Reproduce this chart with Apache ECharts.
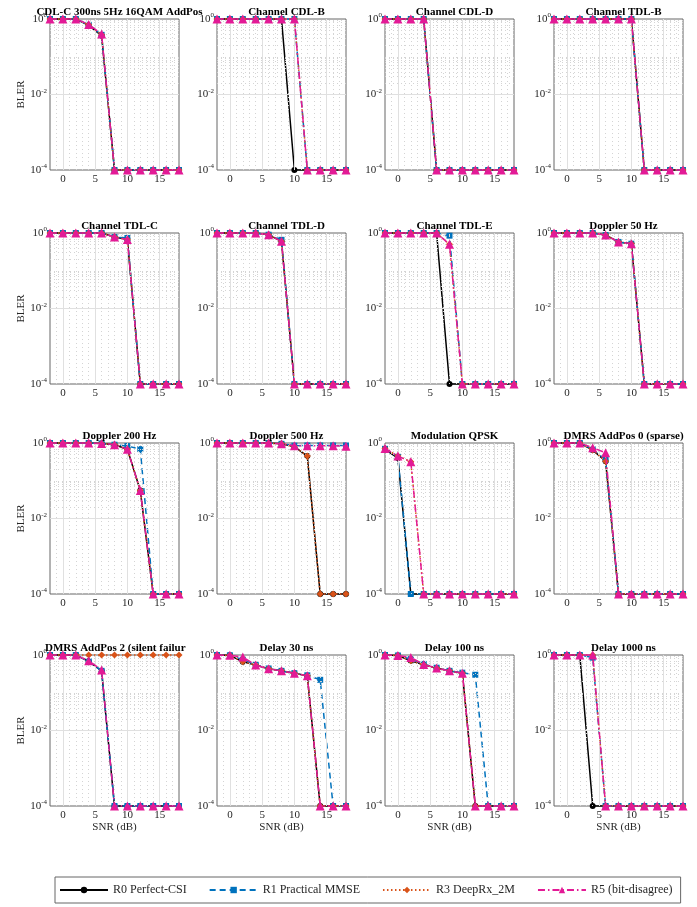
<!DOCTYPE html>
<html>
<head>
<meta charset="utf-8">
<script src="https://cdn.jsdelivr.net/npm/echarts@6/dist/echarts.min.js"></script>
<style>
  html, body { margin: 0; padding: 0; background: #fff; }
  #chart { width: 697px; height: 907px; }
</style>
</head>
<body>
<div id="chart"></div>
<script>
// SNR sweep (dB) shared by every panel
const snr = [-2, 0, 2, 4, 6, 8, 10, 12, 14, 16, 18];

// Panel titles, row by row
const titles = [
  'CDL-C 300ns 5Hz 16QAM AddPos', 'Channel CDL-B', 'Channel CDL-D', 'Channel TDL-B',
  'Channel TDL-C', 'Channel TDL-D', 'Channel TDL-E', 'Doppler 50 Hz',
  'Doppler 200 Hz', 'Doppler 500 Hz', 'Modulation QPSK', 'DMRS AddPos 0 (sparse)',
  'DMRS AddPos 2 (silent failure)', 'Delay 30 ns', 'Delay 100 ns', 'Delay 1000 ns'
];

// Receiver names
const seriesNames = ['R0 Perfect-CSI', 'R1 Practical MMSE', 'R3 DeepRx_2M', 'R5 (bit-disagree)'];

// Error-free points are plotted at the 1e-4 floor
const F = 1e-4;

// BLER per panel, R0 Perfect-CSI
const r0 = [
  [1, 1, 1, 0.68, 0.36, F, F, F, F, F, F],
  [1, 1, 1, 1, 1, 1, F, F, F, F, F],
  [1, 1, 1, 1, F, F, F, F, F, F, F],
  [1, 1, 1, 1, 1, 1, 1, F, F, F, F],
  [1, 1, 1, 1, 1, 0.78, 0.67, F, F, F, F],
  [1, 1, 1, 1, 0.9, 0.6, F, F, F, F, F],
  [1, 1, 1, 1, 1, F, F, F, F, F, F],
  [1, 1, 1, 1, 0.88, 0.58, 0.52, F, F, F, F],
  [1, 1, 1, 1, 0.97, 0.9, 0.68, 0.055, F, F, F],
  [1, 1, 1, 1, 1, 0.95, 0.8, 0.45, F, F, F],
  [0.68, 0.4, F, F, F, F, F, F, F, F, F],
  [1, 1, 1, 0.65, 0.33, F, F, F, F, F, F],
  [1, 1, 1, 0.68, 0.38, F, F, F, F, F, F],
  [1, 0.98, 0.66, 0.54, 0.43, 0.38, 0.33, 0.28, F, F, F],
  [1, 0.97, 0.7, 0.55, 0.45, 0.38, 0.33, F, F, F, F],
  [1, 1, 1, F, F, F, F, F, F, F, F]
];

// BLER per panel, R1 Practical MMSE
const r1 = [
  [1, 1, 1, 0.7, 0.38, F, F, F, F, F, F],
  [1, 1, 1, 1, 1, 1, 1, F, F, F, F],
  [1, 1, 1, 1, F, F, F, F, F, F, F],
  [1, 1, 1, 1, 1, 1, 1, F, F, F, F],
  [1, 1, 1, 1, 1, 0.78, 0.74, F, F, F, F],
  [1, 1, 1, 1, 0.9, 0.66, F, F, F, F, F],
  [1, 1, 1, 1, 1, 0.85, F, F, F, F, F],
  [1, 1, 1, 1, 0.88, 0.58, 0.52, F, F, F, F],
  [1, 1, 1, 1, 0.97, 0.9, 0.83, 0.69, F, F, F],
  [1, 1, 1, 1, 1, 0.95, 0.85, 0.86, 0.86, 0.86, 0.86],
  [0.7, 0.43, F, F, F, F, F, F, F, F, F],
  [1, 1, 1, 0.68, 0.36, F, F, F, F, F, F],
  [1, 1, 1, 0.68, 0.38, F, F, F, F, F, F],
  [1, 0.98, 0.75, 0.55, 0.44, 0.38, 0.33, 0.29, 0.22, F, F],
  [1, 0.97, 0.78, 0.58, 0.46, 0.38, 0.34, 0.3, F, F, F],
  [1, 1, 1, 0.85, F, F, F, F, F, F, F]
];

// BLER per panel, R3 DeepRx_2M
const r3 = [
  [1, 1, 1, 0.7, 0.38, F, F, F, F, F, F],
  [1, 1, 1, 1, 1, 1, 1, F, F, F, F],
  [1, 1, 1, 1, F, F, F, F, F, F, F],
  [1, 1, 1, 1, 1, 1, 1, F, F, F, F],
  [1, 1, 1, 1, 1, 0.78, 0.67, F, F, F, F],
  [1, 1, 1, 1, 0.9, 0.6, F, F, F, F, F],
  [1, 1, 1, 1, 1, 0.5, F, F, F, F, F],
  [1, 1, 1, 1, 0.88, 0.58, 0.52, F, F, F, F],
  [1, 1, 1, 1, 0.97, 0.9, 0.68, 0.055, F, F, F],
  [1, 1, 1, 1, 1, 0.95, 0.8, 0.45, F, F, F],
  [0.72, 0.45, 0.32, F, F, F, F, F, F, F, F],
  [1, 1, 1, 0.65, 0.33, F, F, F, F, F, F],
  [1, 1, 1, 1, 1, 1, 1, 1, 1, 1, 1],
  [1, 0.98, 0.66, 0.54, 0.43, 0.38, 0.33, 0.28, F, F, F],
  [1, 0.97, 0.7, 0.55, 0.45, 0.38, 0.33, F, F, F, F],
  [1, 1, 1, 1, F, F, F, F, F, F, F]
];

// BLER per panel, R5 (bit-disagree)
const r5 = [
  [1, 1, 1, 0.72, 0.4, F, F, F, F, F, F],
  [1, 1, 1, 1, 1, 1, 1, F, F, F, F],
  [1, 1, 1, 1, F, F, F, F, F, F, F],
  [1, 1, 1, 1, 1, 1, 1, F, F, F, F],
  [1, 1, 1, 1, 1, 0.78, 0.67, F, F, F, F],
  [1, 1, 1, 1, 0.9, 0.6, F, F, F, F, F],
  [1, 1, 1, 1, 1, 0.5, F, F, F, F, F],
  [1, 1, 1, 1, 0.88, 0.58, 0.52, F, F, F, F],
  [1, 1, 1, 1, 0.97, 0.9, 0.68, 0.055, F, F, F],
  [1, 1, 1, 1, 1, 0.95, 0.85, 0.85, 0.85, 0.85, 0.82],
  [0.72, 0.45, 0.32, F, F, F, F, F, F, F, F],
  [1, 1, 1, 0.75, 0.55, F, F, F, F, F, F],
  [1, 1, 1, 0.7, 0.4, F, F, F, F, F, F],
  [1, 0.98, 0.88, 0.54, 0.43, 0.38, 0.33, 0.28, F, F, F],
  [1, 0.97, 0.86, 0.56, 0.45, 0.38, 0.33, F, F, F, F],
  [1, 1, 1, 1, F, F, F, F, F, F, F]
];

const allData = [r0, r1, r3, r5];

// ---- styling / layout ----
const serif = '"Liberation Serif", "DejaVu Serif", serif';
const textColor = '#262626';
const colors = ['#000000', '#0072BD', '#D95319', '#E31A96'];
const symbols = ['circle', 'rect', 'diamond', 'triangle'];
const symbolSizes = [6, 6, 7, 9];
const lineTypes = ['solid', [6, 4], [1.5, 2.5], [7, 3, 1.5, 3]];

const colLeft = [50, 217, 385, 554];
const rowTop = [19, 233, 443, 655];
const gw = 129, gh = 151;

// grid line positions: major and minor (log decades on y, unit steps on x)
const yMajor = [1e-2];
const yMinor = [];
for (let k = -4; k <= -1; k++) {
  for (let m = 2; m <= 9; m++) yMinor.push(+(m * Math.pow(10, k)).toPrecision(3));
}
yMinor.push(1e-1, 1e-3);
const xMajor = [0, 5, 10, 15];
const xMinor = [];
for (let v = -1; v <= 17; v++) if (xMajor.indexOf(v) < 0) xMinor.push(v);

const grids = [], xAxes = [], yAxes = [], series = [], titleList = [];
const majorStyle = { color: '#e0e0e0', width: 1, type: 'solid' };
const minorStyle = { color: '#d4d4d4', width: 1, type: [1, 3] };

for (let i = 0; i < 16; i++) {
  const row = Math.floor(i / 4), col = i % 4;
  const left = colLeft[col], top = rowTop[row];
  grids.push({
    left: left, top: top, width: gw, height: gh,
    show: true, borderColor: '#666666', borderWidth: 1, backgroundColor: 'transparent'
  });
  xAxes.push({
    type: 'value', gridIndex: i, min: -2, max: 18, interval: 1,
    axisLine: { show: false },
    axisTick: { show: false },
    splitLine: { show: false },
    axisLabel: {
      margin: 4, color: textColor, fontFamily: serif, fontSize: 11,
      showMinLabel: false, showMaxLabel: false,
      formatter: v => (v % 5 === 0 ? String(v) : '')
    },
    name: row === 3 ? 'SNR (dB)' : '',
    nameLocation: 'middle', nameGap: 16,
    nameTextStyle: { color: textColor, fontFamily: serif, fontSize: 11 }
  });
  yAxes.push({
    type: 'log', logBase: 10, gridIndex: i, min: 1e-4, max: 1,
    axisLine: { show: false },
    axisTick: { show: false },
    splitLine: { show: false },
    axisLabel: {
      margin: 3, color: textColor, fontFamily: serif, fontSize: 11,
      formatter: v => {
        const e = Math.round(Math.log10(v));
        return e % 2 === 0 ? '{b|10}{s|' + e + '}' : '';
      },
      rich: {
        b: { fontFamily: serif, fontSize: 11, color: textColor },
        s: { fontFamily: serif, fontSize: 7, color: textColor, verticalAlign: 'bottom', padding: [0, 0, 7, 0] }
      }
    },
    name: col === 0 ? 'BLER' : '',
    nameLocation: 'middle', nameGap: 23, nameRotate: 90,
    nameTextStyle: { color: textColor, fontFamily: serif, fontSize: 11 }
  });
  // background grid (drawn beneath the data)
  const gridLines = [];
  yMinor.forEach(v => gridLines.push({ yAxis: v, lineStyle: minorStyle }));
  xMinor.forEach(v => gridLines.push({ xAxis: v, lineStyle: minorStyle }));
  yMajor.forEach(v => gridLines.push({ yAxis: v, lineStyle: majorStyle }));
  xMajor.forEach(v => gridLines.push({ xAxis: v, lineStyle: majorStyle }));
  series.push({
    type: 'line', xAxisIndex: i, yAxisIndex: i, data: [], z: 1, silent: true,
    markLine: { silent: true, symbol: ['none', 'none'], label: { show: false }, animation: false, data: gridLines }
  });
  for (let s = 0; s < 4; s++) {
    series.push({
      name: seriesNames[s], type: 'line', xAxisIndex: i, yAxisIndex: i, z: 3 + s,
      data: snr.map((x, k) => [x, allData[s][i][k]]),
      symbol: symbols[s], symbolSize: symbolSizes[s], showAllSymbol: true,
      itemStyle: { color: colors[s] },
      lineStyle: { color: colors[s], width: 1.5, type: lineTypes[s] },
      clip: false, animation: false
    });
  }
  // the AddPos 2 title runs into the neighbouring panel and is cut short there
  const isClipped = i === 12;
  titleList.push({
    text: titles[i],
    left: isClipped ? 40 : left + gw / 2,
    textAlign: isClipped ? 'left' : 'center',
    top: top - 17,
    textStyle: {
      fontFamily: serif, fontSize: 11, fontWeight: 'bold', color: '#000',
      width: isClipped ? 143 : undefined, overflow: isClipped ? 'truncate' : 'none', ellipsis: ''
    }
  });
}

const chart = echarts.init(document.getElementById('chart'), null, { renderer: 'canvas' });
chart.setOption({
  animation: false,
  backgroundColor: '#ffffff',
  title: titleList,
  grid: grids,
  xAxis: xAxes,
  yAxis: yAxes,
  legend: {
    data: seriesNames,
    left: 55, top: 877,
    padding: [7, 8, 7, 4],
    itemWidth: 48, itemHeight: 8, itemGap: 22,
    borderColor: '#666666', borderWidth: 1, borderRadius: 0,
    textStyle: { fontFamily: serif, fontSize: 12, color: textColor }
  },
  series: series
});
</script>
</body>
</html>
